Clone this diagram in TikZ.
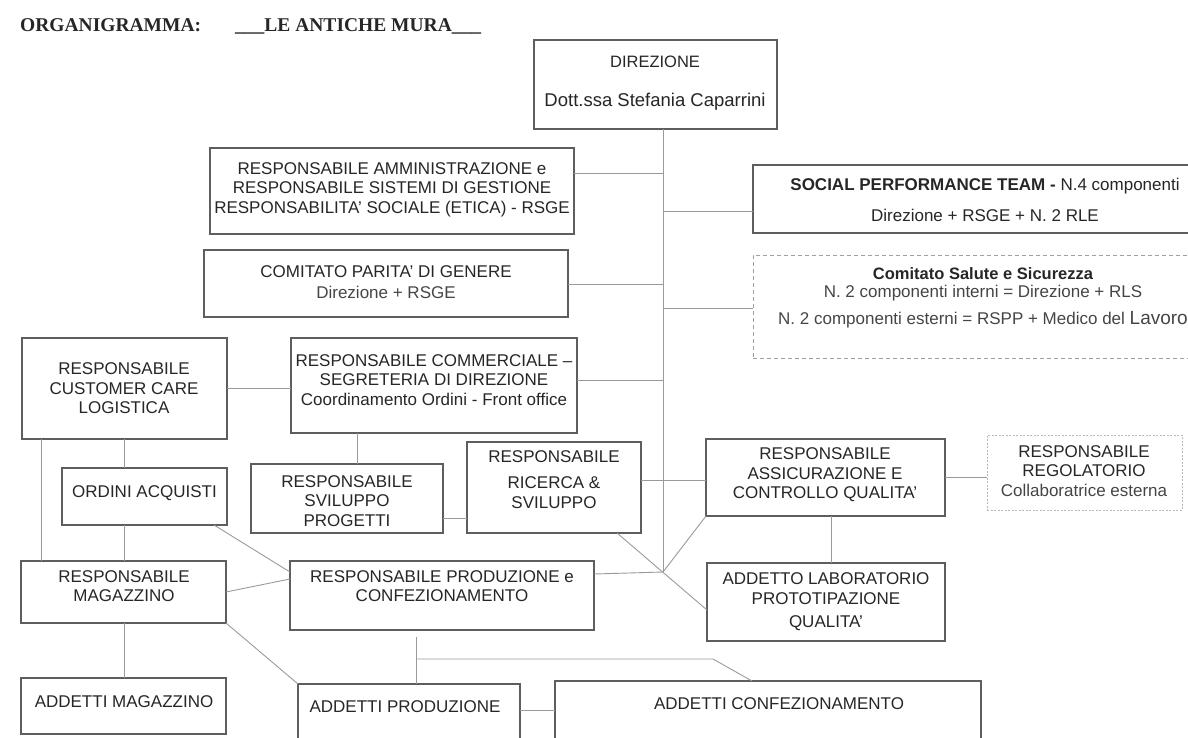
\documentclass[tikz,border=0pt]{standalone}
\usepackage{fontspec}
\setmainfont{Liberation Sans}
\newfontfamily\titlefont{Liberation Serif}
\usetikzlibrary{calc}
\definecolor{ink}{HTML}{262626}
\definecolor{softink}{HTML}{454545}
\definecolor{edge}{HTML}{5E5E5E}
\definecolor{wire}{HTML}{9A9A9A}
\begin{document}
\begin{tikzpicture}[x=1pt,y=-1pt,
  box/.style={draw=edge, line width=1.1pt, anchor=north west, inner sep=0pt, outer sep=0pt},
  dbox/.style={box, draw=gray!75, dash pattern=on 4pt off 3pt, line width=0.9pt},
  obox/.style={box, draw=gray!55, dash pattern=on 2pt off 1.5pt, line width=0.9pt},
  txt/.style={text=ink, align=center, inner sep=0pt, font=\fontsize{17}{19.5}\selectfont},
  conn/.style={draw=wire, line width=0.9pt},
  ttl/.style={anchor=base west, inner sep=0pt, text=black!85, font=\titlefont\bfseries\fontsize{19.5}{20}\selectfont}]
\useasboundingbox (0,0) rectangle (1188,738);
\clip (0,0) rectangle (1188,738);

% title
\node[ttl] (title1) at (20,32) {ORGANIGRAMMA:};
\node[ttl] (title2) at (235,32) {\_\_\_LE ANTICHE MURA\_\_\_};

% boxes
\node[box, minimum width=243, minimum height=89] (dir) at (534,40) {};
\node[box, minimum width=364, minimum height=86] (amm) at (210,148) {};
\node[box, minimum width=470, minimum height=68] (soc) at (753,165) {};
\node[box, minimum width=364, minimum height=67] (par) at (204,250) {};
\node[dbox, minimum width=470, minimum height=103] (sal) at (753,255) {};
\node[box, minimum width=205, minimum height=101] (cc) at (22,338) {};
\node[box, minimum width=286, minimum height=95] (com) at (291,338) {};
\node[box, minimum width=165, minimum height=57] (ord) at (62,468) {};
\node[box, minimum width=192, minimum height=69] (svp) at (251,464) {};
\node[box, minimum width=174, minimum height=91] (ric) at (467,442) {};
\node[box, minimum width=239, minimum height=77] (assic) at (706,439) {};
\node[obox, minimum width=195, minimum height=75] (reg) at (987,435) {};
\node[box, minimum width=238, minimum height=78] (lab) at (707,563) {};
\node[box, minimum width=304, minimum height=69] (prod) at (290,561) {};
\node[box, minimum width=205, minimum height=62] (mag) at (21,561) {};
\node[box, minimum width=205, minimum height=56] (amag) at (21,678) {};
\node[box, minimum width=222, minimum height=70] (aprod) at (298,684) {};
\node[box, minimum width=426, minimum height=70] (aconf) at (555,681) {};

% texts
\node[txt, font=\fontsize{16.5}{18}\selectfont] (dir-t1) at (655,62) {DIREZIONE};
\node[txt, font=\fontsize{18.5}{20}\selectfont] (dir-t2) at (655,102) {Dott.ssa Stefania Caparrini};
\node[txt] (amm-t) at (392,189.5) {RESPONSABILE AMMINISTRAZIONE e\\RESPONSABILE SISTEMI DI GESTIONE\\RESPONSABILITA’ SOCIALE (ETICA) - RSGE};
\node[txt] (soc-t1) at (985,186) {{\bfseries SOCIAL PERFORMANCE TEAM -} N.4 componenti};
\node[txt] (soc-t2) at (985,215) {Direzione + RSGE + N. 2 RLE};
\node[txt] (par-t1) at (386,272) {COMITATO PARITA’ DI GENERE};
\node[txt, text=softink] (par-t2) at (386,292) {Direzione + RSGE};
\node[txt, font=\bfseries\fontsize{16.5}{19}\selectfont] (sal-t1) at (983,274) {Comitato Salute e Sicurezza};
\node[txt, text=softink] (sal-t2) at (983,293) {N. 2 componenti interni = Direzione + RLS};
\node[txt, text=softink] (sal-t3) at (983,320) {N. 2 componenti esterni = RSPP + Medico del {\fontsize{19}{20}\selectfont Lavoro}};
\node[txt] (cc-t) at (124,388.5) {RESPONSABILE\\CUSTOMER CARE\\LOGISTICA};
\node[txt] (com-t) at (434,380) {RESPONSABILE COMMERCIALE –\\SEGRETERIA DI DIREZIONE\\Coordinamento Ordini - Front office};
\node[txt] (ord-t) at (144.5,493) {ORDINI ACQUISTI};
\node[txt] (svp-t) at (347,501) {RESPONSABILE\\SVILUPPO\\PROGETTI};
\node[txt] (ric-t1) at (554,457) {RESPONSABILE};
\node[txt] (ric-t2) at (554,492.5) {RICERCA \&\\SVILUPPO};
\node[txt] (assic-t) at (825,475) {RESPONSABILE\\ASSICURAZIONE E\\CONTROLLO QUALITA’};
\node[txt] (reg-t) at (1084,471) {RESPONSABILE\\REGOLATORIO\\\textcolor{softink}{Collaboratrice esterna}};
\node[txt] (lab-t1) at (826,588.5) {ADDETTO LABORATORIO\\PROTOTIPAZIONE};
\node[txt] (lab-t2) at (826,623) {QUALITA’};
\node[txt] (prod-t) at (442,586) {RESPONSABILE PRODUZIONE e\\CONFEZIONAMENTO};
\node[txt] (mag-t) at (124,586) {RESPONSABILE\\MAGAZZINO};
\node[txt] (amag-t) at (124,702) {ADDETTI MAGAZZINO};
\node[txt] (aprod-t) at (405,707) {ADDETTI PRODUZIONE};
\node[txt] (aconf-t) at (779,704) {ADDETTI CONFEZIONAMENTO};

% connectors
\coordinate (J) at (663,572);
\coordinate (P) at (416,637);
\coordinate (B) at (713,659);
\draw[conn] (dir.south -| J) -- (J);
\draw[conn] (amm.east |- 0,173) -- (J |- 0,173);
\draw[conn] (J |- 0,211) -- (soc.west |- 0,211);
\draw[conn] (par.east |- 0,284) -- (J |- 0,284);
\draw[conn] (J |- 0,308) -- (sal.west |- 0,308);
\draw[conn] (com.east |- 0,380) -- (J |- 0,380);
\draw[conn] (ric.east |- 0,480) -- (assic.west |- 0,480);
\draw[conn] (assic.east |- 0,477) -- (reg.west |- 0,477);
\draw[conn] (assic.south -| 831,0) -- (lab.north -| 831,0);
\draw[conn] (ric.south -| 617,0) -- (lab.west |- 0,610);
\draw[conn] (assic.south west) -- (J);
\draw[conn] (prod.east |- 0,574) -- (J);
\draw[conn] (cc.east |- 0,388) -- (com.west |- 0,388);
\draw[conn] (cc.south -| 41,0) -- (mag.north -| 41,0);
\draw[conn] (cc.south -| 124,0) -- (ord.north -| 124,0);
\draw[conn] (ord.south -| 124,0) -- (mag.north -| 124,0);
\draw[conn] (ord.south -| 214,0) -- (prod.west |- 0,572);
\draw[conn] (com.south -| 357,0) -- (svp.north -| 357,0);
\draw[conn] (svp.east |- 0,518) -- (ric.west |- 0,518);
\draw[conn] (mag.east |- 0,592) -- (prod.west |- 0,579);
\draw[conn] (mag.south -| 124,0) -- (amag.north -| 124,0);
\draw[conn] (mag.south east) -- (aprod.north west);
\draw[conn] (P) -- (aprod.north -| P);
\draw[conn] (P |- B) -- (B) -- (aconf.north -| 752,0);
\draw[conn] (aprod.east |- 0,710) -- (aconf.west |- 0,710);
\end{tikzpicture}
\end{document}
